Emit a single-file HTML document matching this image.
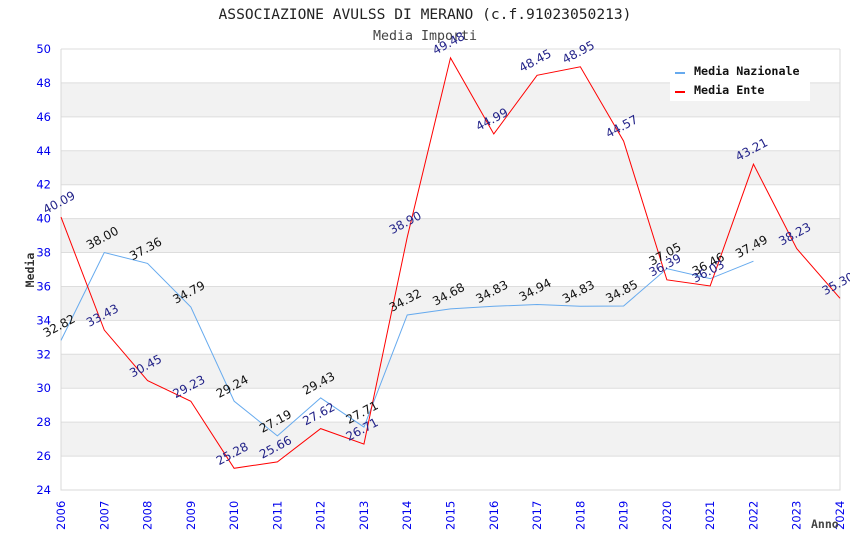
<!DOCTYPE html>
<html><head><meta charset="utf-8"><style>
body{margin:0;background:#fff}
svg text{font-family:"DejaVu Sans","Liberation Sans",sans-serif}
.mono{font-family:"DejaVu Sans Mono","Liberation Mono",monospace}
</style></head><body>
<svg width="850" height="550" xmlns="http://www.w3.org/2000/svg" id="chart">
<text class="mono" x="425" y="19" text-anchor="middle" font-size="14.6" fill="#222">ASSOCIAZIONE AVULSS DI MERANO (c.f.91023050213)</text>
<text class="mono" x="425" y="40" text-anchor="middle" font-size="13.3" fill="#444">Media Importi</text>
<g id="grid"></g>
<g id="series"></g>
<g id="labels"></g>
<g id="axes"></g>
<text class="mono" transform="translate(34,270) rotate(-90)" text-anchor="middle" font-size="11.5" font-weight="bold" fill="#333">Media</text>
<text class="mono" x="811" y="528" font-size="11.5" font-weight="bold" fill="#444">Anno</text>
<g>
<rect x="670" y="57" width="140" height="44" fill="#fff"/>
<rect x="675" y="72" width="10" height="2" fill="#66aaee"/>
<text class="mono" x="694" y="75" font-size="11.7" font-weight="bold" fill="#111">Media Nazionale</text>
<rect x="675" y="91" width="10" height="2" fill="#ff0000"/>
<text class="mono" x="694" y="94" font-size="11.7" font-weight="bold" fill="#111">Media Ente</text>
</g>
</svg>
<script>
const years=[2006,2007,2008,2009,2010,2011,2012,2013,2014,2015,2016,2017,2018,2019,2020,2021,2022,2023,2024];
const nazionale=[32.82,38.00,37.36,34.79,29.24,27.19,29.43,27.71,34.32,34.68,34.83,34.94,34.83,34.85,37.05,36.46,37.49];
const ente=[40.09,33.43,30.45,29.23,25.28,25.66,27.62,26.71,38.90,49.48,44.99,48.45,48.95,44.57,36.39,36.03,43.21,38.23,35.30];
const yTicks=[24,26,28,30,32,34,36,38,40,42,44,46,48,50];
const X0=61,X1=840,Y0=49,Y1=490,YMIN=24,YMAX=50;
const xs=i=>X0+(X1-X0)*i/(years.length-1);
const ys=v=>Y1-(v-YMIN)/(YMAX-YMIN)*(Y1-Y0);
const NS="http://www.w3.org/2000/svg";
function mk(t,a,p){const e=document.createElementNS(NS,t);for(const k in a)e.setAttribute(k,a[k]);p.appendChild(e);return e;}
const grid=document.getElementById('grid'),axes=document.getElementById('axes'),ser=document.getElementById('series'),lab=document.getElementById('labels');
for(let i=0;i<yTicks.length-1;i++){
 const a=yTicks[i],b=yTicks[i+1];
 const r=mk('rect',{x:X0,y:ys(b),width:X1-X0,height:ys(a)-ys(b),fill:(i%2==1)?'#f2f2f2':'#fff'},grid);
 
 
}
yTicks.forEach(v=>{
 const l=mk('line',{x1:X0,x2:X1,y1:ys(v),y2:ys(v),stroke:'#dddddd','stroke-width':1},grid);
 
 
 const t=mk('text',{x:51,y:ys(v)+4,'text-anchor':'end','font-size':11.5,fill:'#0000ee'},axes);
 t.textContent=v;
 
 
});
const ax=mk('path',{d:`M${X0} ${Y0}V${Y1}H${X1}V${Y0}`,fill:'none',stroke:'#d8d8d8'},grid);


years.forEach((y,i)=>{
 const t=mk('text',{transform:`translate(${xs(i)+4},${530}) rotate(-90)`,'font-size':11.5,fill:'#0000ee'},axes);
 t.textContent=y;
 
 
});
function series(vals,color,lc,name){
 const p=mk('polyline',{points:vals.map((v,i)=>xs(i)+','+ys(v)).join(' '),fill:'none',stroke:color,'stroke-width':1},ser);
 
 
 vals.forEach((v,i)=>{
  const t=mk('text',{transform:`translate(${xs(i)},${ys(v)-11}) rotate(-28)`,'text-anchor':'middle','font-size':12,fill:lc},lab);
  t.textContent=v.toFixed(2);
  
  
 });
}
series(nazionale,'#66aaee','#111','nazionale');
series(ente,'#ff0000','#222288','ente');
</script>
</body></html>
